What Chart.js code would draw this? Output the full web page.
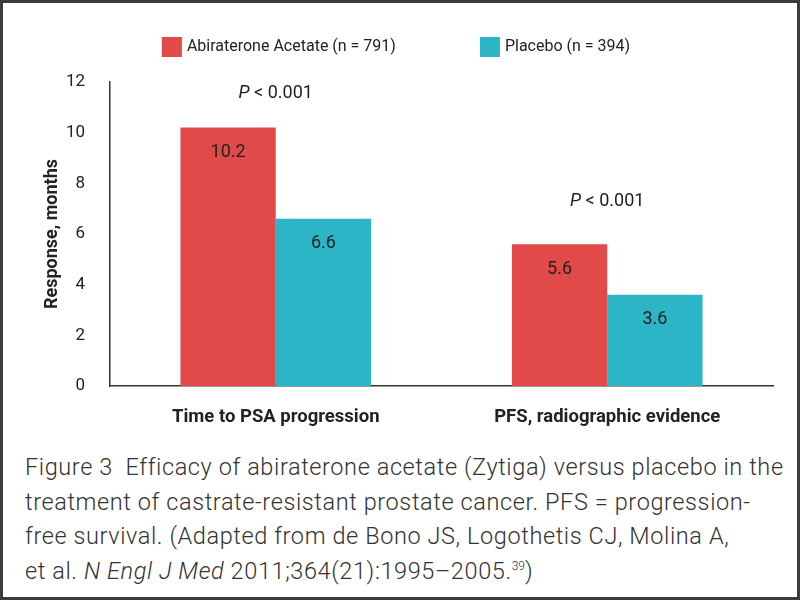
<!DOCTYPE html>
<html lang="en">
<head>
<meta charset="UTF-8">
<title>Abiraterone acetate vs placebo</title>
<script src="https://cdn.jsdelivr.net/npm/chart.js"></script>
<style>
  html, body { margin: 0; padding: 0; background: #fff; }
  #page { position: relative; width: 800px; height: 600px; overflow: hidden; background: #fff; }
  #chartBox { position: absolute; left: 0; top: 0; width: 800px; height: 440px; }
  #caption {
    position: absolute; left: 25px; top: 450px; width: 775px; white-space: nowrap;
    font-family: Roboto, "Open Sans", sans-serif; font-size: 23.5px; line-height: 34.5px;
    letter-spacing: 0.6px; color: #333; font-weight: 300;
  }
  #caption sup { font-size: 12px; line-height: 0; letter-spacing: 0; }
  #frame { position: absolute; left: 0; top: 0; width: 800px; height: 600px; box-sizing: border-box; border: 3px solid #3b3b3b; pointer-events: none; }
</style>
</head>
<body>
<div id="page">
  <div id="chartBox"><canvas id="chart" width="800" height="440"></canvas></div>
  <div id="caption">Figure 3&nbsp; Efficacy of abiraterone acetate (Zytiga) versus placebo in the<br>treatment of castrate-resistant prostate cancer. PFS = progression-<br>free survival. (Adapted from de Bono JS, Logothetis CJ, Molina A,<br>et al. <i>N Engl J Med</i> 2011;364(21):1995&ndash;2005.<sup>39</sup>)</div>
  <div id="frame"></div>
</div>
<script>
const categories = ['Time to PSA progression', 'PFS, radiographic evidence'];
const seriesNames = ['Abiraterone Acetate (n = 791)', 'Placebo (n = 394)'];
const abirateroneValues = [10.2, 5.6];
const placeboValues = [6.6, 3.6];
const pValueText = ['< 0.001', '< 0.001'];
const pValueLevel = [11.55, 7.3];   // height (months) where each P label sits
const yTicks = [0, 2, 4, 6, 8, 10, 12];

const RED = '#e24a4a';
const TEAL = '#2bb5c7';
const FONT = 'Roboto, "Open Sans", sans-serif';

// legend drawn at the top, centred
const topLegend = {
  id: 'topLegend',
  afterDraw(chart) {
    const ctx = chart.ctx;
    const box = 20, gap = 5, spacing = 84;
    ctx.save();
    ctx.font = '16px ' + FONT;
    const widths = chart.data.datasets.map(d => ctx.measureText(d.label).width);
    let total = 0;
    widths.forEach((w, i) => { total += box + gap + w + (i ? spacing : 0); });
    let x = chart.width / 2 - total / 2 - 4;
    const cy = 47;
    chart.data.datasets.forEach((d, i) => {
      ctx.fillStyle = d.backgroundColor;
      ctx.fillRect(x, cy - box / 2, box, box);
      ctx.fillStyle = '#222';
      ctx.textBaseline = 'middle';
      ctx.textAlign = 'left';
      ctx.fillText(d.label, x + box + gap, cy);
      x += box + gap + widths[i] + spacing;
    });
    ctx.restore();
  }
};

// value inside each bar and the P labels over each group
const barNotes = {
  id: 'barNotes',
  afterDatasetsDraw(chart) {
    const ctx = chart.ctx;
    ctx.save();
    ctx.fillStyle = '#222';
    ctx.textAlign = 'center';
    ctx.textBaseline = 'middle';
    ctx.font = '18px ' + FONT;
    chart.data.datasets.forEach((d, di) => {
      chart.getDatasetMeta(di).data.forEach((bar, i) => {
        ctx.fillText(d.data[i].toFixed(1), bar.x, bar.y + 25);
      });
    });
    const xs = chart.scales.x, ys = chart.scales.y;
    categories.forEach((c, i) => {
      const cx = xs.getPixelForValue(i);
      const cy = ys.getPixelForValue(pValueLevel[i]);
      ctx.font = 'italic 18px ' + FONT;
      const pw = ctx.measureText('P ').width;
      ctx.font = '18px ' + FONT;
      const rw = ctx.measureText(pValueText[i]).width;
      let x = cx - (pw + rw) / 2;
      ctx.textAlign = 'left';
      ctx.font = 'italic 18px ' + FONT;
      ctx.fillText('P', x, cy);
      ctx.font = '18px ' + FONT;
      ctx.fillText(pValueText[i], x + pw, cy);
    });
    ctx.restore();
  }
};

new Chart(document.getElementById('chart'), {
  type: 'bar',
  data: {
    labels: categories,
    datasets: [
      { label: seriesNames[0], data: abirateroneValues, backgroundColor: RED },
      { label: seriesNames[1], data: placeboValues, backgroundColor: TEAL }
    ]
  },
  options: {
    responsive: false,
    animation: false,
    categoryPercentage: 0.575,
    barPercentage: 1,
    layout: { padding: { top: 82, right: 27, left: 0, bottom: 0 } },
    plugins: { legend: { display: false }, tooltip: { enabled: false } },
    scales: {
      x: {
        grid: { display: false },
        border: { display: true, color: '#333', width: 1.5 },
        ticks: { color: '#222', padding: 12, font: { family: FONT, size: 18.5, weight: 'bold' } },
        afterFit(scale) { scale.height = 54; }
      },
      y: {
        min: 0, max: 12,
        afterBuildTicks(scale) { scale.ticks = yTicks.map(v => ({ value: v })); },
        grid: { display: false },
        border: { display: true, color: '#333', width: 1.5 },
        ticks: { color: '#222', padding: 17, font: { family: FONT, size: 17 } },
        title: { display: true, text: 'Response, months', color: '#222', padding: { top: 42, bottom: 0 }, font: { family: FONT, size: 18, weight: 'bold' } },
        afterFit(scale) { scale.width = 110; }
      }
    }
  },
  plugins: [topLegend, barNotes]
});
</script>
</body>
</html>
